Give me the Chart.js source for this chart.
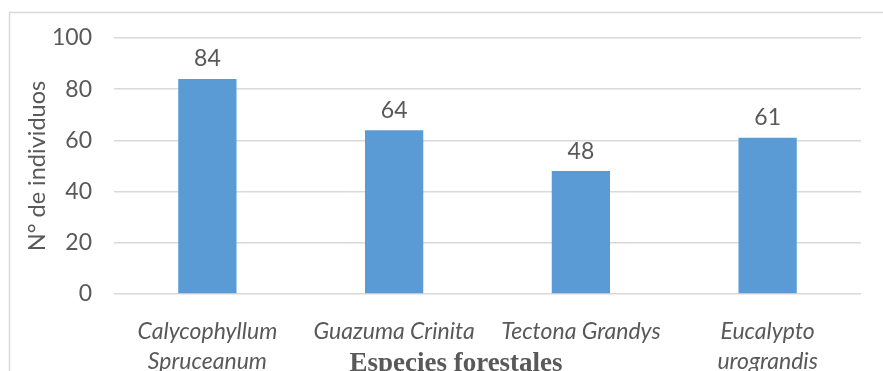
<!DOCTYPE html>
<html>
<head>
<meta charset="utf-8">
<script src="https://cdn.jsdelivr.net/npm/chart.js@4"></script>
<style>
  html, body { margin: 0; padding: 0; background: #fff; overflow: hidden; }
  canvas { display: block; }
</style>
</head>
<body>
<canvas id="c" width="883" height="371"></canvas>
<script>
const categories = [
  ["Calycophyllum", "Spruceanum"],
  "Guazuma Crinita",
  "Tectona Grandys",
  ["Eucalypto", "urograndis"]
];
const individuos = [84, 64, 48, 61];
const yTicks = [0, 20, 40, 60, 80, 100];
const xTitle = 'Especies forestales';
const yTitle = 'N° de individuos';

const TEXT = '#595959';
const GRID = '#D9D9D9';
const BAR = '#5B9BD5';

const frame = {
  id: 'frame',
  beforeDraw(chart) {
    const ctx = chart.ctx;
    ctx.save();
    ctx.strokeStyle = GRID;
    ctx.lineWidth = 1.5;
    ctx.beginPath();
    ctx.moveTo(9.5, 371);
    ctx.lineTo(9.5, 12.5);
    ctx.lineTo(883, 12.5);
    ctx.stroke();
    ctx.restore();
  }
};

const valueLabels = {
  id: 'valueLabels',
  afterDatasetsDraw(chart) {
    const ctx = chart.ctx;
    const meta = chart.getDatasetMeta(0);
    ctx.save();
    ctx.font = '23px Lato';
    ctx.fillStyle = TEXT;
    ctx.textAlign = 'center';
    ctx.textBaseline = 'middle';
    meta.data.forEach((bar, i) => {
      ctx.fillText(String(chart.data.datasets[0].data[i]), bar.x, bar.y - 20);
    });
    ctx.restore();
  }
};

const xAxisTitle = {
  id: 'xAxisTitle',
  afterDraw(chart) {
    const ctx = chart.ctx;
    ctx.save();
    ctx.font = 'bold 27px "Liberation Serif"';
    ctx.fillStyle = TEXT;
    ctx.textAlign = 'center';
    ctx.textBaseline = 'alphabetic';
    ctx.fillText(xTitle, 456, 371);
    ctx.restore();
  }
};

new Chart(document.getElementById('c'), {
  type: 'bar',
  data: {
    labels: categories,
    datasets: [{
      data: individuos,
      backgroundColor: BAR,
      borderWidth: 0,
      barPercentage: 0.312,
      categoryPercentage: 1
    }]
  },
  options: {
    responsive: false,
    animation: false,
    devicePixelRatio: 1,
    layout: { padding: { top: 38, right: 22, left: 0, bottom: 0 } },
    plugins: { legend: { display: false }, tooltip: { enabled: false } },
    scales: {
      x: {
        grid: { display: false, drawTicks: false },
        border: { display: false },
        ticks: {
          color: TEXT,
          font: { family: 'Lato', size: 23, style: 'italic', lineHeight: 1.28 },
          padding: 23,
          maxRotation: 0,
          autoSkip: false
        },
        afterFit(scale) { scale.height = 371 - 294; }
      },
      y: {
        min: 0,
        max: 100,
        afterBuildTicks(scale) { scale.ticks = yTicks.map(v => ({ value: v })); },
        grid: { color: GRID, lineWidth: 1.5, drawTicks: false },
        border: { display: false },
        ticks: {
          color: TEXT,
          font: { family: 'Lato', size: 23 },
          padding: 22
        },
        title: {
          display: true,
          text: yTitle,
          color: TEXT,
          font: { family: 'Lato', size: 23.5, lineHeight: 1.2 },
          padding: { top: 23, bottom: 0 }
        },
        afterFit(scale) { scale.width = 114; }
      }
    }
  },
  plugins: [frame, valueLabels, xAxisTitle]
});
</script>
</body>
</html>
